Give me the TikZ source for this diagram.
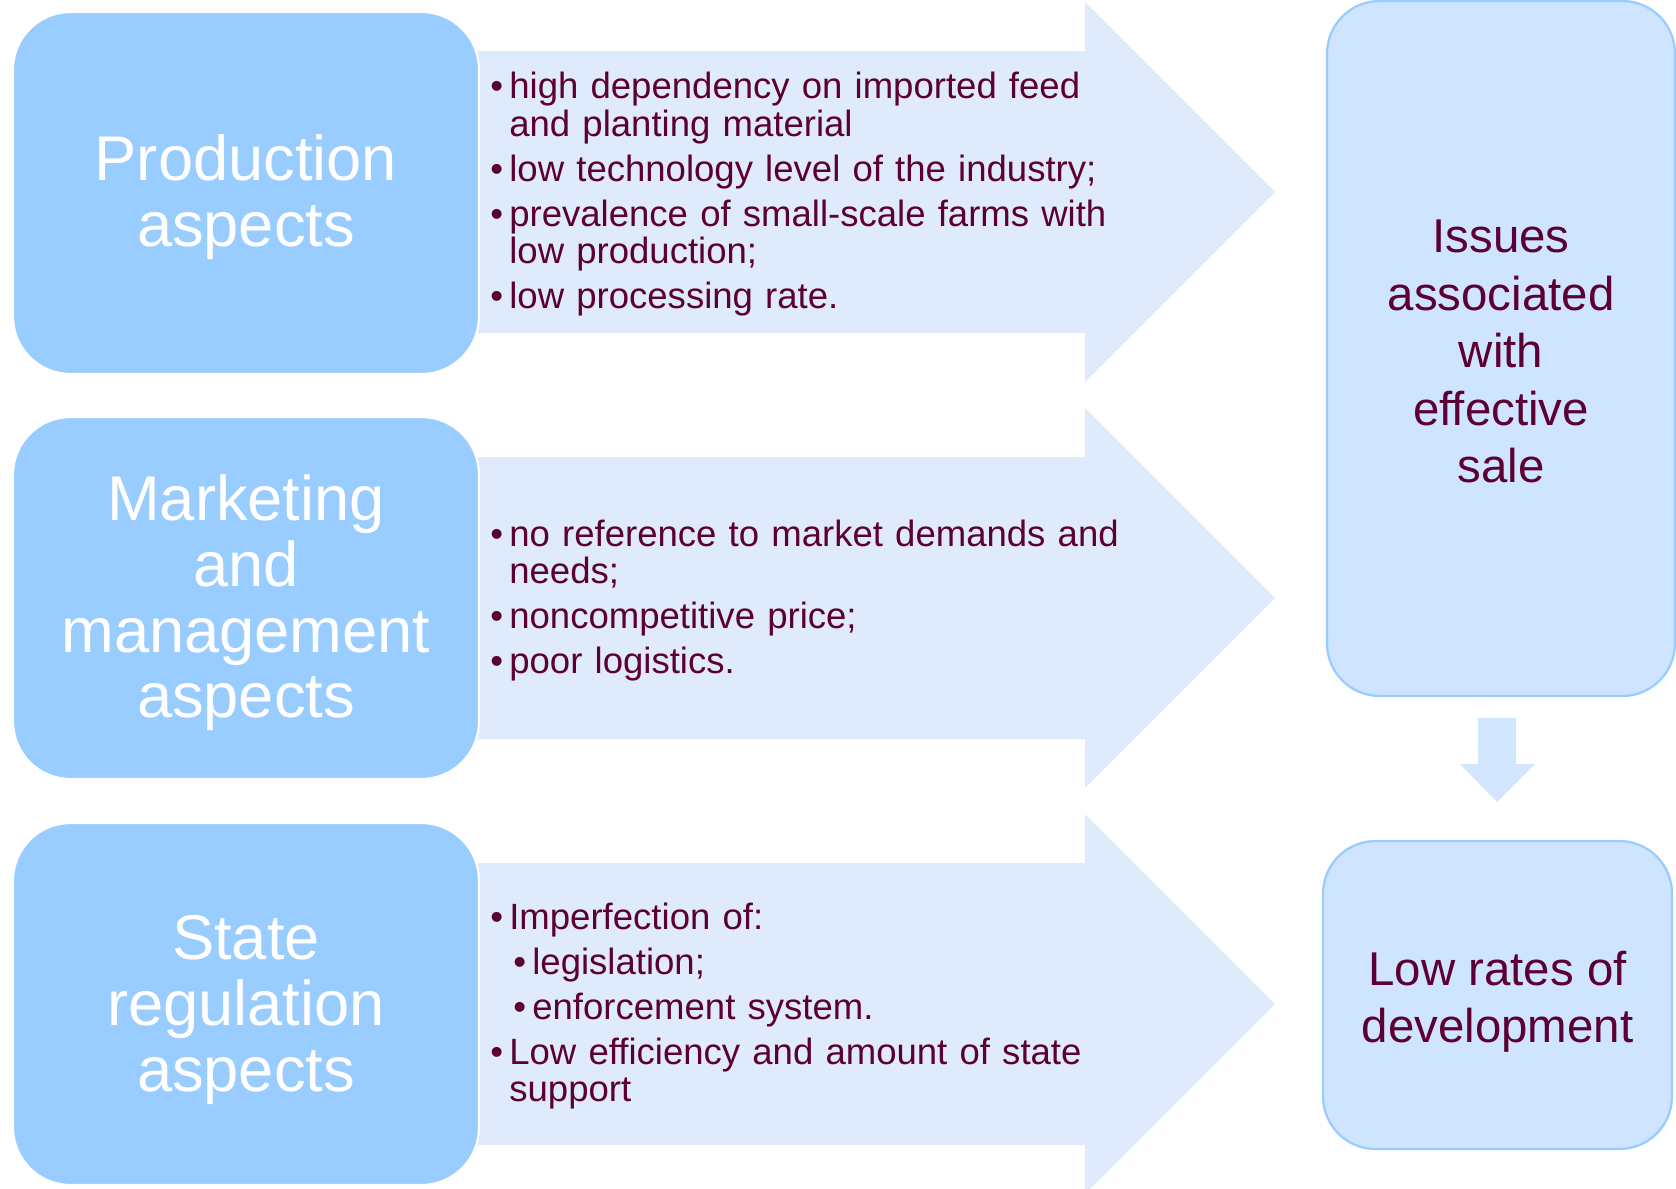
\documentclass[tikz,border=0pt]{standalone}
\usepackage{fontspec}
\setmainfont{Liberation Sans}
\usetikzlibrary{calc}
\definecolor{boxblue}{HTML}{99CCFF}
\definecolor{arrowblue}{HTML}{DFEBFD}
\definecolor{paleblue}{HTML}{CFE5FF}
\definecolor{downblue}{HTML}{D2E7FD}
\definecolor{wine}{HTML}{5C0033}
% bullet items inside the big arrows
\newcommand{\itm}[1]{\par\hangindent=0.38cm\hangafter=1\noindent\makebox[0.38cm][l]{•}#1\par}
\newcommand{\subitm}[1]{\par\hangindent=0.84cm\hangafter=1\noindent\hspace*{0.46cm}\makebox[0.38cm][l]{•}#1\par}

\begin{document}
\begin{tikzpicture}[x=0.02cm,y=-0.02cm,line join=round,
    aspect/.style={fill=boxblue,draw=white,line width=1.2pt,rounded corners=1.15cm,
        minimum width=9.32cm,minimum height=7.24cm},
    aspecttext/.style={align=center,text=white,font=\fontsize{36}{37.4}\selectfont},
    result/.style={fill=paleblue,draw=boxblue,line width=1.3pt,rounded corners=1.05cm},
    resulttext/.style={align=center,text=wine,font=\fontsize{27}{32.7}\selectfont},
    points/.style={anchor=west,inner sep=0pt,text width=12.85cm,align=left,text=wine,
        font=\fontsize{20.8}{21.3}\selectfont\setlength{\parskip}{4.3pt}}]
    \useasboundingbox (0,0) rectangle (1676,1188);
    % the three big arrows
    \foreach \yc[count=\j] in {192,598,1004}{
        \fill[arrowblue] (460,\yc-141) -- (1085,\yc-141) -- (1085,\yc-190) -- (1275,\yc)
            -- (1085,\yc+190) -- (1085,\yc+141) -- (460,\yc+141) -- cycle;
        \coordinate (t\j) at (490,\yc-7);
    }
    % left boxes
    \node[aspect] (prod) at (246,193) {};
    \node[aspect] (mark) at (246,598) {};
    \node[aspect] (state) at (246,1004) {};
    \node[aspecttext] (prodlbl) at ($(prod)+(0,4)$) {Production\\aspects};
    \node[aspecttext] (marklbl) at ($(mark)+(0,5)$) {Marketing\\and\\management\\aspects};
    \node[aspecttext] (statelbl) at ($(state)+(0,6)$) {State\\regulation\\aspects};
    % right boxes
    \node[result,minimum width=6.96cm,minimum height=13.9cm] (issues) at (1501,348.5) {};
    \node[result,minimum width=6.98cm,minimum height=6.16cm] (low) at (1497.5,995) {};
    \node[resulttext] (issueslbl) at ($(issues)+(0,3)$) {Issues\\associated\\with\\effective\\sale};
    \node[resulttext] (lowlbl) at ($(low)+(0,7)$) {Low rates of\\development};
    \fill[downblue] (1478,718) -- (1516,718) -- (1516,764) -- (1535,764) -- (1497,802)
        -- (1460,764) -- (1478,764) -- cycle;
    % texts in the arrows
    \node[points] (ptprod) at (t1) {%
        \itm{high dependency on imported feed and planting material}
        \itm{low technology level of the industry;}
        \itm{prevalence of small-scale farms with low production;}
        \itm{low processing rate.}};
    \node[points] (ptmark) at (t2) {%
        \itm{no reference to market demands and needs;}
        \itm{noncompetitive price;}
        \itm{poor logistics.}};
    \node[points] (ptstate) at (t3) {%
        \itm{Imperfection of:}
        \subitm{legislation;}
        \subitm{enforcement system.}
        \itm{Low efficiency and amount of state support}};
\end{tikzpicture}
\end{document}
